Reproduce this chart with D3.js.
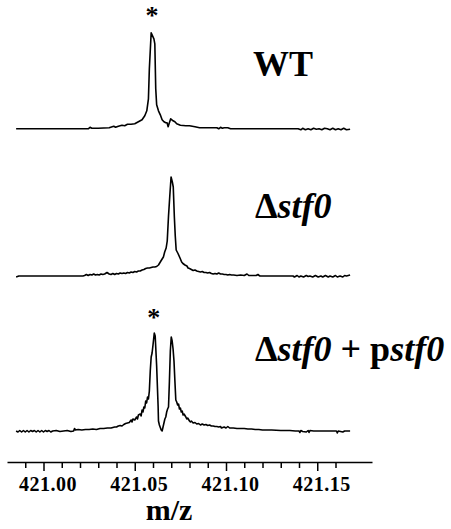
<!DOCTYPE html>
<html><head><meta charset="utf-8">
<script src="https://cdn.jsdelivr.net/npm/d3@7/dist/d3.min.js"></script>
<style>
html,body{margin:0;padding:0;background:#fff;}
svg{display:block;}
text{font-family:"Liberation Serif","Times New Roman",serif;font-weight:bold;fill:#000;}
</style></head>
<body>
<svg id="chart" width="451" height="529"></svg>
<script>
// ---- data (m/z, relative intensity) ----
const wtSpectrum = [
[420.985,0],[421.000,0],[421.020,0],[421.0245,0],[421.0255,1.5],[421.0265,0.5],[421.030,0.5],
[421.036,1],[421.0385,2.5],[421.0395,1.5],[421.041,2.5],[421.043,3.5],[421.0445,3],[421.046,4.5],
[421.048,4.5],[421.050,5],[421.052,7],[421.054,9],[421.0555,13],[421.0566,18],[421.0575,30],
[421.058,60],[421.059,96],[421.0595,94],[421.0605,90],[421.061,85],[421.0615,40],[421.062,24],
[421.063,18],[421.064,14],[421.065,9],[421.066,7],[421.067,6],[421.0677,6],[421.0683,2],
[421.0688,5],[421.0697,10],[421.071,8],[421.072,7],[421.073,5],[421.075,3.5],[421.078,3],
[421.080,3],[421.083,2],[421.0855,1],[421.090,1],[421.095,1],[421.096,0],[421.097,1.5],
[421.098,0.5],[421.099,1],[421.101,1],[421.1025,0],[421.120,0],[421.1395,0],[421.141,-1],
[421.142,0.5],[421.1435,-1],[421.145,0],[421.1465,-1],[421.148,0.5],[421.1495,-0.5],[421.151,0],
[421.1525,-1],[421.154,0.5],[421.1555,0],[421.157,-1],[421.1585,0.5],[421.160,-1],[421.1615,0],
[421.163,-1],[421.1645,0.5],[421.166,-1],[421.168,-0.5]
];
const stf0Spectrum = [
[420.985,-1],[420.9865,0],[421.000,0],[421.0216,0],[421.0225,0.5],[421.0235,1.5],[421.0245,0.5],
[421.0255,1.5],[421.0265,1],[421.0275,2],[421.0285,1],[421.0295,1.5],[421.0305,1],[421.0315,2],
[421.0325,1.5],[421.0335,2],[421.0348,3.5],[421.036,2],[421.037,1.5],[421.038,2.5],[421.039,1.5],
[421.040,2.5],[421.041,2],[421.042,3],[421.043,2.5],[421.044,3],[421.045,2.5],[421.046,3.5],
[421.047,3],[421.048,4],[421.049,3.5],[421.050,4.5],[421.051,4],[421.052,5],[421.053,5],
[421.054,6],[421.055,6.5],[421.056,7.5],[421.057,8],[421.058,8],[421.059,8.5],[421.060,9],
[421.061,9],[421.062,9.5],[421.063,11],[421.064,14],[421.065,17],[421.0657,19],[421.0664,24],
[421.0672,28],[421.0678,35],[421.0685,60],[421.0692,80],[421.0699,99],[421.0706,94],[421.0711,89],
[421.0717,59],[421.0722,40],[421.0727,26],[421.0737,22.5],[421.0748,18],[421.0757,14],
[421.0764,12.5],[421.0775,11],[421.0786,10],[421.0792,8],[421.080,7.5],[421.081,6.5],[421.082,5.5],
[421.083,6],[421.084,5],[421.085,4.5],[421.086,4],[421.087,4.5],[421.088,3.5],[421.089,3.5],
[421.090,3],[421.091,3.5],[421.092,2.5],[421.093,2],[421.094,2.5],[421.095,2],[421.096,3],
[421.097,2],[421.098,2],[421.099,1.5],[421.100,1.5],[421.101,1],[421.102,1.5],[421.103,1],
[421.1042,1],[421.106,0.5],[421.108,1],[421.110,0.5],[421.1115,2],[421.1125,0.5],[421.1145,0.5],
[421.1165,0.5],[421.1175,1.5],[421.1182,0.5],[421.1186,0],[421.1367,0],[421.1375,-1],[421.139,0.5],
[421.140,-1],[421.141,0],[421.1425,-1],[421.144,0.5],[421.145,-0.5],[421.146,0],[421.1475,-1],
[421.149,0.5],[421.1505,-1],[421.152,0],[421.153,-1],[421.1545,0.5],[421.156,-1],[421.157,0],
[421.1585,-1],[421.160,0.5],[421.161,-1],[421.1625,0],[421.164,-1],[421.165,0.5],[421.166,0],
[421.167,0.5],[421.168,1]
];
const complSpectrum = [
[420.985,0],[420.986,-1],[420.987,0.5],[420.988,-1],[420.989,0.5],[420.990,-1],[420.991,0.5],
[420.992,-1],[420.993,0.5],[420.994,-0.5],[420.995,0.5],[420.996,-1],[420.997,0.5],[420.998,-1],
[420.999,0.5],[421.000,-1],[421.001,0.5],[421.002,-0.5],[421.003,0.5],[421.004,-1],[421.005,0],
[421.007,0.5],[421.009,-0.5],[421.011,0],[421.013,0.5],[421.015,-0.5],[421.0165,0],[421.017,2.5],
[421.0175,1],[421.019,1.5],[421.021,1],[421.023,1.5],[421.025,1.5],[421.027,2],[421.029,1.5],
[421.031,2.5],[421.033,2.5],[421.035,3],[421.037,3],[421.039,4],[421.040,4],[421.041,5],
[421.042,5.5],[421.043,5],[421.044,6.5],[421.045,7.5],[421.046,8],[421.047,8.5],[421.048,11],
[421.0485,9],[421.049,12],[421.050,11],[421.051,14],[421.0515,12],[421.052,16],[421.053,17],
[421.0535,15],[421.054,21],[421.0545,19],[421.055,24],[421.0555,23],[421.056,30],[421.0565,28],
[421.057,34],[421.0575,32],[421.058,40],[421.0585,60],[421.059,74],[421.0595,78],[421.060,86],
[421.0607,98],[421.0612,95],[421.062,65],[421.0628,25],[421.063,10],[421.0635,6],[421.0645,1],
[421.065,0],[421.0655,4],[421.066,8],[421.0665,12],[421.067,14],[421.0675,19],[421.068,22],
[421.0685,24],[421.069,50],[421.0695,80],[421.070,94],[421.0705,90],[421.071,82],[421.0715,70],
[421.072,50],[421.0725,31],[421.073,29],[421.0735,26],[421.074,27],[421.0745,22],[421.075,23],
[421.0755,19],[421.076,20],[421.0765,16],[421.077,17],[421.078,14],[421.0785,12],[421.079,13],
[421.080,10],[421.0805,9],[421.081,10],[421.082,8],[421.083,8.5],[421.084,7],[421.085,7.5],
[421.086,6],[421.087,7],[421.088,6],[421.089,6.5],[421.090,5.5],[421.091,6],[421.092,5],
[421.093,5],[421.094,4.5],[421.095,4.5],[421.096,4],[421.097,4.5],[421.0975,3],[421.099,4],
[421.100,3],[421.101,4.5],[421.102,3],[421.104,3],[421.106,2.5],[421.108,2.5],[421.110,2.5],
[421.112,2],[421.114,2],[421.116,1.5],[421.118,1.5],[421.120,1],[421.125,1],[421.130,0.5],
[421.135,0.5],[421.138,0],[421.140,0],[421.1405,-1.5],[421.141,0.5],[421.142,-0.5],[421.144,-1],
[421.145,0.5],[421.1455,-1.5],[421.146,0.5],[421.148,0],[421.150,0],[421.152,0],[421.154,0],
[421.157,0],[421.159,0],[421.1605,0],[421.161,-2],[421.1615,0],[421.164,-1],[421.165,0],[421.168,0]
];
const majorTicks = [421.00, 421.05, 421.10, 421.15];
const minorTicks = [420.99, 421.01, 421.02, 421.03, 421.04, 421.06, 421.07, 421.08, 421.09,
                    421.11, 421.12, 421.13, 421.14, 421.16];
const xDomain = [420.98, 421.18];
const markedPeaks = [[421.0595, 0], [421.0604, 2]]; // asterisks: [m/z, panel]
const xLabel = "m/z";

// ---- layout ----
const svg = d3.select("#chart");
const x = d3.scaleLinear().domain(xDomain).range([7, 372]);
const panels = [
  {data: wtSpectrum, base: 128.8, labelY: 76},
  {data: stf0Spectrum, base: 276, labelY: 218},
  {data: complSpectrum, base: 431, labelY: 361}
];
panels.forEach(p => { p.y = d3.scaleLinear().domain([0, 100]).range([p.base, p.base - 100]); });

const line = y => d3.line().x(d => x(d[0])).y(d => y(d[1]));
panels.forEach(p => {
  svg.append("path").datum(p.data)
    .attr("d", line(p.y))
    .attr("fill", "none").attr("stroke", "#000")
    .attr("stroke-width", 1.6).attr("stroke-linejoin", "round");
});

// labels
const labelX = 253;
svg.append("text").attr("x", labelX).attr("y", panels[0].labelY)
  .attr("font-size", 36).text("WT");
const l2 = svg.append("text").attr("x", labelX + 2).attr("y", panels[1].labelY).attr("font-size", 36);
l2.append("tspan").text("\u0394");
l2.append("tspan").attr("font-style", "italic").text("stf0");
const l3 = svg.append("text").attr("x", labelX + 2).attr("y", panels[2].labelY).attr("font-size", 36);
l3.append("tspan").text("\u0394");
l3.append("tspan").attr("font-style", "italic").text("stf0");
l3.append("tspan").text(" + p");
l3.append("tspan").attr("font-style", "italic").text("stf0");

// asterisks
markedPeaks.forEach(([mz, pi]) => {
  const p = panels[pi];
  svg.append("text").attr("x", x(mz)).attr("y", p.y(100) - 5)
    .attr("text-anchor", "middle").attr("font-size", 26).text("*");
});

// axis
const axisY = 462;
const gMinor = svg.append("g").attr("transform", `translate(0,${axisY})`)
  .call(d3.axisBottom(x).tickValues(minorTicks).tickSize(6).tickSizeOuter(0).tickFormat(""));
gMinor.select(".domain").remove();
const gMajor = svg.append("g").attr("transform", `translate(0,${axisY})`)
  .call(d3.axisBottom(x).tickValues(majorTicks).tickSize(9).tickSizeOuter(0).tickFormat(d3.format(".2f")));
svg.selectAll(".tick line").attr("stroke", "#000").attr("stroke-width", 1.5);
gMajor.select(".domain").attr("stroke", "#000").attr("stroke-width", 1.6);
gMajor.selectAll(".tick text")
  .attr("font-family", "Liberation Serif, serif").attr("font-weight", "bold")
  .attr("font-size", 20).attr("fill", "#000").attr("dy", null).attr("y", 29).attr("dx", 4)
  .style("letter-spacing", "0.5px");

svg.append("text").attr("x", 169).attr("y", 520).attr("text-anchor", "middle")
  .attr("font-size", 30).text(xLabel);
</script>
</body></html>
